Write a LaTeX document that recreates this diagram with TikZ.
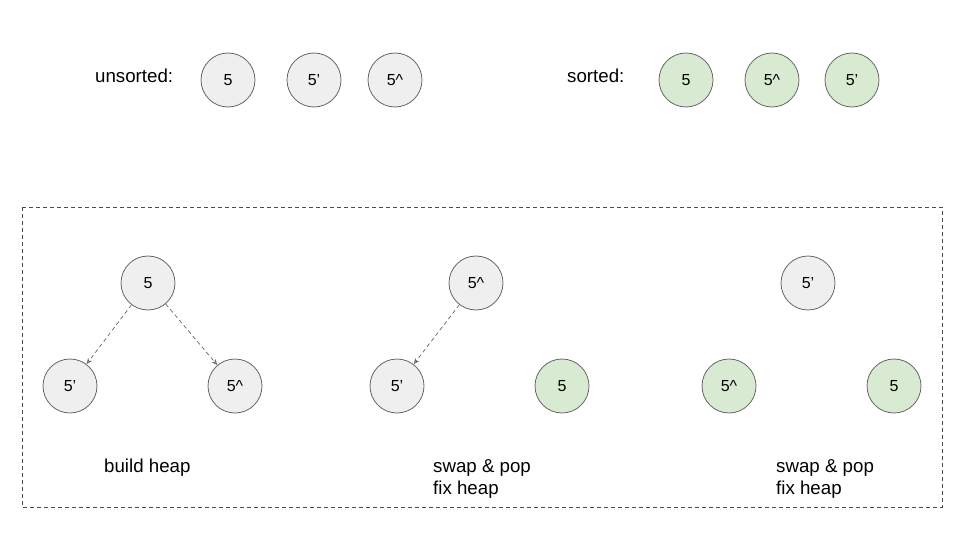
\documentclass[tikz,border=0pt]{standalone}
\usepackage{fontspec}
\setmainfont{Liberation Sans}
\usetikzlibrary{arrows.meta}
\definecolor{grayfill}{HTML}{EFEFEF}
\definecolor{greenfill}{HTML}{D9EAD3}
\definecolor{edge}{HTML}{666666}
\begin{document}
\begin{tikzpicture}[x=1pt,y=-1pt,
  elem/.style={circle,draw=edge,line width=0.8pt,minimum size=54pt,inner sep=0pt,font=\fontsize{16}{19}\selectfont},
  unsortedelem/.style={elem,fill=grayfill},
  sortedelem/.style={elem,fill=greenfill},
  lbl/.style={font=\fontsize{18.7}{22.5}\selectfont,inner sep=0pt},
  heaparrow/.style={draw=edge,dash pattern=on 4pt off 3pt,line width=0.7pt,-{Stealth[length=6pt,width=5pt,open]}},
  frame/.style={draw=black!70,dash pattern=on 4pt off 3pt,line width=0.6pt}]
\useasboundingbox (0,0) rectangle (960,540);
% top row
\node[lbl,anchor=west] (ulbl) at (95,76) {unsorted:};
\node[unsortedelem] (u1) at (228,80) {5};
\node[unsortedelem] (u2) at (314,80) {5’};
\node[unsortedelem] (u3) at (395,80) {5\^{}};
\node[lbl,anchor=west] (slbl) at (567,76) {sorted:};
\node[sortedelem] (s1) at (686,80) {5};
\node[sortedelem] (s2) at (772,80) {5\^{}};
\node[sortedelem] (s3) at (852,80) {5’};
% frame
\draw[frame] (22,207) rectangle (942,507);
% tree 1
\node[unsortedelem] (a1) at (148,283) {5};
\node[unsortedelem] (a2) at (70,386) {5’};
\node[unsortedelem] (a3) at (235,386) {5\^{}};
\draw[heaparrow] (a1) -- (a2);
\draw[heaparrow] (a1) -- (a3);
\node[lbl,anchor=north west] (t1) at (104,459) {build heap};
% tree 2
\node[unsortedelem] (b1) at (476,283) {5\^{}};
\node[unsortedelem] (b2) at (397,386) {5’};
\node[sortedelem] (b3) at (562,386) {5};
\draw[heaparrow] (b1) -- (b2);
\node[lbl,anchor=north west,align=left] (t2) at (433,459) {swap \& pop\\fix heap};
% tree 3
\node[unsortedelem] (c1) at (808,283) {5’};
\node[sortedelem] (c2) at (729,386) {5\^{}};
\node[sortedelem] (c3) at (894,386) {5};
\node[lbl,anchor=north west,align=left] (t3) at (776,459) {swap \& pop\\fix heap};
\end{tikzpicture}
\end{document}
